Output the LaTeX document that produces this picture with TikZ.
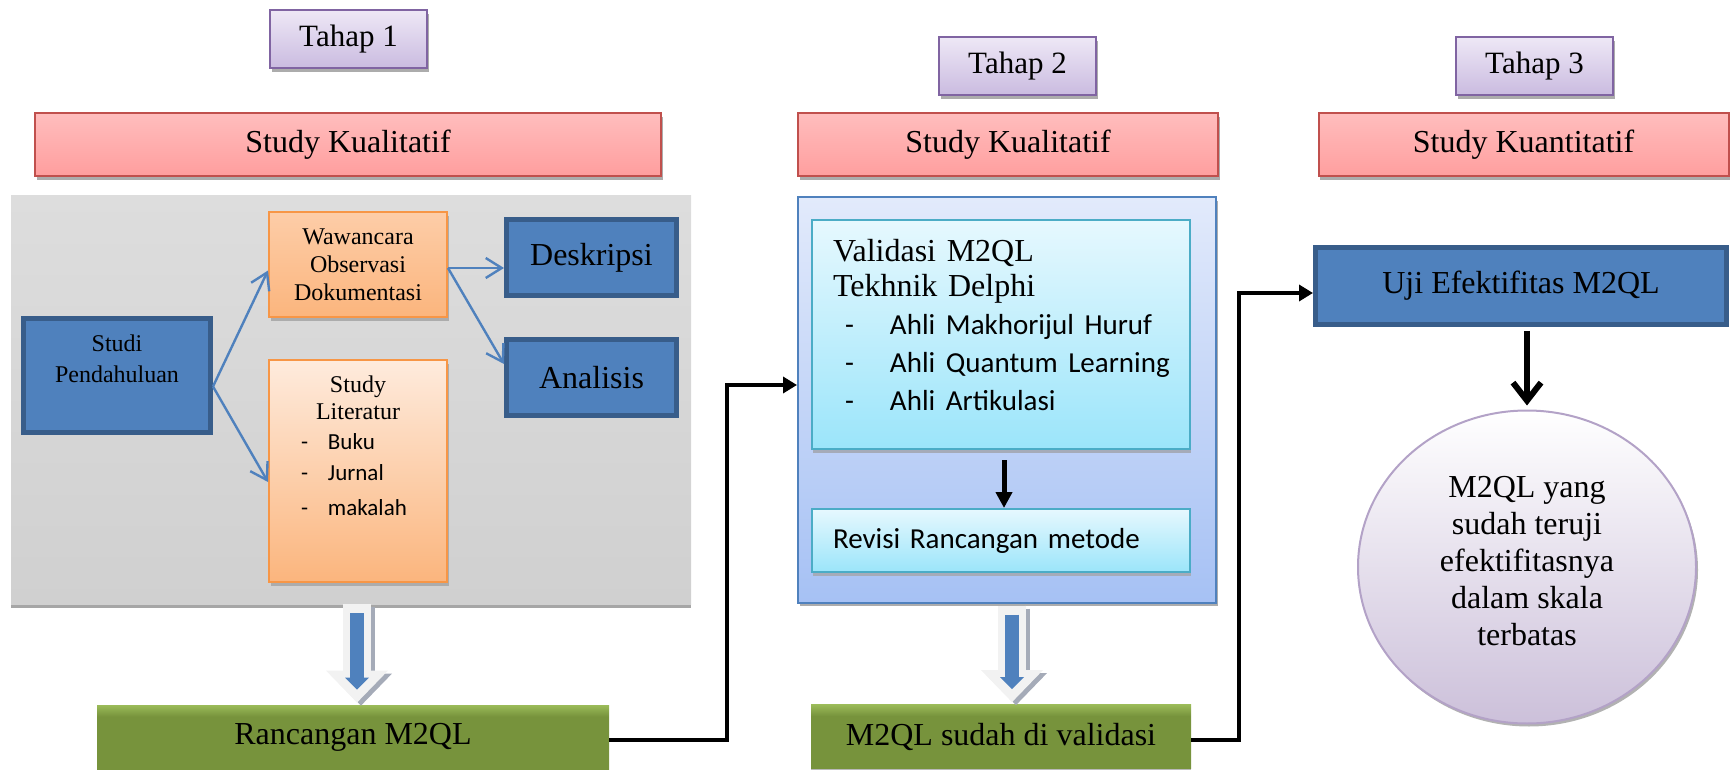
\documentclass[tikz,border=0pt]{standalone}
\usepackage{fontspec}
\setmainfont{Liberation Serif}
\newfontfamily\calibri{Carlito}
\usepackage{tikz}
\usetikzlibrary{arrows.meta,positioning,calc,shadows,shapes.geometric}

\definecolor{ungu}{HTML}{8064A2}
\definecolor{unguA}{HTML}{EEE8F6}
\definecolor{unguB}{HTML}{CABBE0}
\definecolor{merah}{HTML}{C0504D}
\definecolor{merahA}{HTML}{FFBDBD}
\definecolor{merahB}{HTML}{FF9E9E}
\definecolor{biru}{HTML}{4F81BD}
\definecolor{biruTua}{HTML}{385D8A}
\definecolor{oranye}{HTML}{F79646}
\definecolor{oranyeA}{HTML}{FDCDA8}
\definecolor{oranyeB}{HTML}{FBB57D}
\definecolor{oranyeC}{HTML}{FEEBDD}
\definecolor{abuA}{HTML}{DDDDDD}
\definecolor{abuB}{HTML}{D0D0D0}
\definecolor{panelA}{HTML}{E2EAFB}
\definecolor{panelB}{HTML}{A6C1F4}
\definecolor{tosca}{HTML}{4BACC6}
\definecolor{toscaA}{HTML}{E6F8FE}
\definecolor{toscaB}{HTML}{9BE5FA}
\definecolor{hijau}{HTML}{77933C}
\definecolor{hijauA}{HTML}{9BBB59}
\definecolor{lilac}{HTML}{B3A2C7}
\definecolor{lilacB}{HTML}{CCC0DA}
\definecolor{bayang}{HTML}{A5ABB8}
\definecolor{putih}{HTML}{F2F2F2}

\pgfdeclareverticalshading{hijaugrad}{100bp}{color(0bp)=(hijau); color(25bp)=(hijau); color(66bp)=(hijau); color(75bp)=(hijauA); color(100bp)=(hijauA)}

\newcommand{\judul}{\fontsize{16}{19}\selectfont}
\newcommand{\kecil}{\fontsize{12}{14}\selectfont}
\newcommand{\butirA}[1]{\makebox[57pt][l]{\calibri\fontsize{11.5}{14}\selectfont\makebox[13.5pt][l]{-}#1}}
\newcommand{\butirB}[1]{{\calibri\fontsize{14.5}{18}\selectfont\hspace*{6pt}\makebox[22.5pt][l]{-}#1}}

\begin{document}
\begin{tikzpicture}[x=0.5pt, y=-0.5pt, >=Latex, node distance=20pt]
\tikzstyle{shd}=[drop shadow={opacity=1, fill=gray!65, shadow xshift=0.8pt, shadow yshift=-1.8pt}]
\tikzstyle{tahapbox}=[draw=ungu, line width=1pt, top color=unguA, bottom color=unguB, shd, minimum width=78.5pt, minimum height=29pt, font=\fontsize{15.5}{18}\selectfont]
\tikzstyle{studibox}=[draw=merah, line width=1pt, top color=merahA, bottom color=merahB, shd, minimum height=31.5pt, font=\judul]
\tikzstyle{birubox}=[draw=biruTua, line width=2.5pt, fill=biru, font=\judul]
\tikzstyle{oranyebox}=[draw=oranye, line width=1pt, bottom color=oranyeB, shd, minimum width=89pt]
\tikzstyle{toscabox}=[draw=tosca, line width=1pt, top color=toscaA, bottom color=toscaB, drop shadow={opacity=1, fill=bayang, shadow xshift=0.5pt, shadow yshift=-2pt}, minimum width=189pt]
\tikzstyle{hijaubox}=[shade, shading=hijaugrad, drop shadow={opacity=1, fill=gray!55, shadow xshift=0pt, shadow yshift=-1pt}, minimum height=32pt, font=\judul]
\tikzstyle{panahtipis}=[draw=biru, line width=1.2pt, -{Straight Barb[length=8pt,width=10pt]}]
\tikzstyle{garis}=[line width=2pt, -{Triangle[length=7pt,width=8pt]}]
\tikzstyle{panahtebal}=[line width=14pt, -{Triangle[length=16pt,width=31pt,line width=0pt]}]
\tikzstyle{panahbiru}=[draw=biru, line width=7pt, -{Triangle[length=6pt,width=12pt,line width=0pt]}]

\useasboundingbox (0,0) rectangle (1730,770);

\node[tahapbox] (tahap1) at (348.5,39) {Tahap 1};
\node[tahapbox] (tahap2) at (1017.5,66) {Tahap 2};
\node[tahapbox] (tahap3) at (1534.5,66) {Tahap 3};
\node[studibox, minimum width=313pt] (kual1) at (348,144.5) {Study Kualitatif};
\node[studibox, minimum width=210pt] (kual2) at (1008,145) {Study Kualitatif};
\node[studibox, minimum width=205pt] (kuan) at (1523.5,145) {Study Kuantitatif};

\node[top color=abuA, bottom color=abuB, drop shadow={opacity=1, fill=gray!70, shadow xshift=0pt, shadow yshift=-2pt}, minimum width=340pt, minimum height=204pt] (tahapsatu) at (351,400) {};
\node[birubox, minimum width=93.5pt, minimum height=57pt, label={[font=\kecil, align=center, yshift=8.5pt]center:Studi\\[1.5pt]Pendahuluan}] (pend) at (117,375.5) {};
\node[oranyebox, top color=oranyeA, minimum height=52.5pt, align=center, font=\kecil] (waw) at (358,264.5) {Wawancara\\Observasi\\Dokumentasi};
\node[oranyebox, top color=oranyeC, minimum height=111pt, below=20.5pt of waw, label={[font=\fontsize{12}{13.5}\selectfont, align=center, yshift=12.5pt]center:Study\\Literatur\\[1.5pt]\butirA{Buku}\\[2pt]\butirA{Jurnal}\\[4pt]\butirA{makalah}}] (lit) {};
\node[birubox, minimum width=85pt, minimum height=38pt] (desk) at (591.5,257.5) {Deskripsi};
\node[birubox, minimum width=85pt, minimum height=38pt, below=19.5pt of desk] (anal) {Analisis};
\node[hijaubox, minimum width=256pt] (ranc) at (353,737) {Rancangan M2QL};

\node[draw=biru, line width=1pt, top color=panelA, bottom color=panelB, shd, minimum width=209pt, minimum height=202.5pt] (tahapdua) at (1007,400) {};
\node[toscabox, minimum height=114.5pt, label={[text width=180pt, align=left, xshift=6pt, yshift=4.5pt, font=\fontsize{16}{17.5}\selectfont]center:Validasi M2QL\\Tekhnik Delphi\\[1.5pt]\butirB{Ahli Makhorijul Huruf}\\[1.5pt]\butirB{Ahli Quantum Learning}\\[1.5pt]\butirB{Ahli Artikulasi}}] (val) at (1001,334.5) {};
\node[toscabox, minimum height=31.5pt, text width=168pt, inner xsep=10.5pt, align=left, font=\calibri\fontsize{14.5}{17}\selectfont, below=29pt of val] (rev) {Revisi Rancangan metode};
\node[hijaubox, minimum width=190pt] (m2ql) at (1001,736.5) {M2QL sudah di validasi};

\node[birubox, minimum width=205.5pt, minimum height=38.5pt] (uji) at (1521,286) {Uji Efektifitas M2QL};
\node[ellipse, draw=lilac, line width=1pt, top color=white, bottom color=lilacB, drop shadow={opacity=1, fill=gray!60, shadow xshift=1pt, shadow yshift=-1.5pt}, minimum width=169pt, minimum height=156.5pt, label={[align=center, yshift=3pt, font=\fontsize{16}{18.5}\selectfont]center:M2QL yang\\sudah teruji\\efektifitasnya\\dalam skala\\terbatas}] (hasil) at (1527,567) {};

\draw[panahtipis] ([yshift=-5.5pt]pend.east) -- ([yshift=-3pt]waw.west);
\draw[panahtipis] ([yshift=-5.5pt]pend.east) -- ([yshift=-5.5pt]lit.west);
\draw[panahtipis] ([yshift=-1.75pt]waw.east) -- ([yshift=-5.25pt]desk.west);
\draw[panahtipis] ([yshift=-1.75pt]waw.east) -- ([yshift=6.75pt]anal.west);

\draw[panahtebal, draw=bayang, transform canvas={xshift=2pt,yshift=-1.5pt}] ($(ranc.north |- tahapsatu.south)+(4,0)$) -- ($(ranc.north)+(4,-2)$);
\draw[panahtebal, draw=putih] ($(ranc.north |- tahapsatu.south)+(4,0)$) -- ($(ranc.north)+(4,-2)$);
\draw[panahbiru] ($(ranc.north |- tahapsatu.south)+(4,9)$) -- ($(ranc.north)+(4,-15)$);
\draw[panahtebal, draw=bayang, transform canvas={xshift=2pt,yshift=-1.5pt}] ($(m2ql.north |- tahapdua.south)+(11,2)$) -- ($(m2ql.north)+(11,-2)$);
\draw[panahtebal, draw=putih] ($(m2ql.north |- tahapdua.south)+(11,2)$) -- ($(m2ql.north)+(11,-2)$);
\draw[panahbiru] ($(m2ql.north |- tahapdua.south)+(11,11)$) -- ($(m2ql.north)+(11,-15)$);

\draw[garis] ([yshift=-1.5pt]ranc.east) -- ++(118,0) |- ([yshift=7.5pt]tahapdua.west);
\draw[garis] ([yshift=-1.75pt]m2ql.east) -- ++(48,0) |- ([yshift=-3.5pt]uji.west);
\draw[line width=2.5pt, -{Triangle[length=8pt,width=8pt]}] ([xshift=1.5pt,yshift=-5pt]val.south) -- ([xshift=1.5pt]rev.north);
\draw[line width=3pt, line join=miter, -{Straight Barb[length=9pt,width=14pt]}] (hasil.north |- uji.south) ++(0,4) -- ([yshift=2pt]hasil.north);
\end{tikzpicture}
\end{document}
